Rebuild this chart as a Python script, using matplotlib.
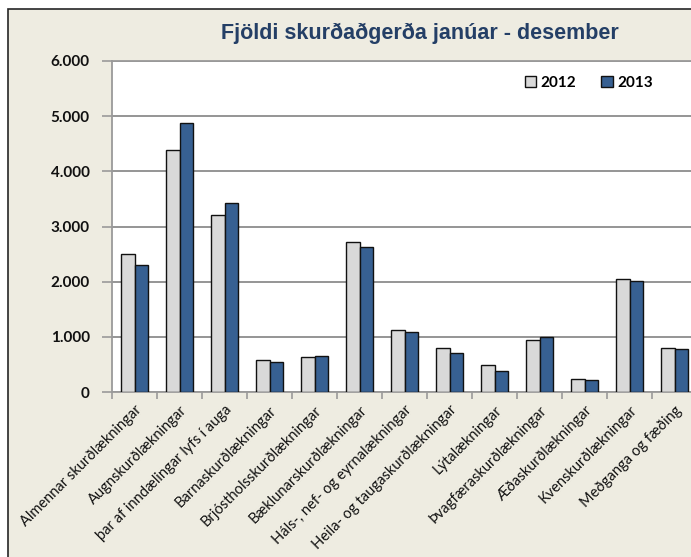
import matplotlib
matplotlib.use("Agg")
import matplotlib.pyplot as plt
from matplotlib.patches import Rectangle, Patch
import numpy as np

categories = [
    "Almennar skurðlækningar",
    "Augnskurðlækningar",
    "þar af inndælingar lyfs í auga",
    "Barnaskurðlækningar",
    "Brjóstholsskurðlækningar",
    "Bæklunarskurðlækningar",
    "Háls-, nef- og eyrnalækningar",
    "Heila- og taugaskurðlækningar",
    "Lýtalækningar",
    "Þvagfæraskurðlækningar",
    "Æðaskurðlækningar",
    "Kvenskurðlækningar",
    "Meðganga og fæðing",
]
values_2012 = [2500, 4380, 3200, 580, 630, 2715, 1115, 800, 485, 945, 236, 2055, 800]
values_2013 = [2300, 4880, 3420, 535, 655, 2625, 1085, 705, 380, 1000, 213, 2018, 776]
series_labels = ["2012", "2013"]
yticks = [0, 1000, 2000, 3000, 4000, 5000, 6000]
ytick_labels = ["0", "1.000", "2.000", "3.000", "4.000", "5.000", "6.000"]
title = "Fjöldi skurðaðgerða janúar - desember"

W, H = 691, 557
fig = plt.figure(figsize=(W / 100, H / 100), dpi=100, facecolor="white")

# outer chart frame
frame = Rectangle((8 / W, -0.05), 1.1, (H - 9) / H + 0.05,
                  transform=fig.transFigure, facecolor="#EEECE1",
                  edgecolor="#262626", linewidth=1.2, zorder=-10)
fig.add_artist(frame)

ax = fig.add_axes([112 / W, (H - 392) / H, 585 / W, 331 / H])
ax.set_zorder(5)
ax.set_facecolor("white")

x = np.arange(len(categories))
bw = 0.29
ax.bar(x - bw / 2, values_2012, bw, color="#D9D9D9", edgecolor="#111111",
       linewidth=1.0, zorder=3, label=series_labels[0])
ax.bar(x + bw / 2, values_2013, bw, color="#376092", edgecolor="#111111",
       linewidth=1.0, zorder=3, label=series_labels[1])

ax.set_xlim(-0.5, len(categories) - 0.5)
ax.set_ylim(0, 6000)
ax.set_yticks(yticks)
ax.set_yticklabels(ytick_labels, fontfamily="Lato", fontweight="bold",
                   fontsize=11, color="#111111")
ax.tick_params(axis="y", length=7, width=1.2, color="#9A9A9A", pad=9)

ax.set_xticks(x)
ax.set_xticklabels(categories, rotation=45, ha="right", va="top",
                   rotation_mode="anchor", fontfamily="Lato", fontsize=10.5,
                   color="#111111")
ax.tick_params(axis="x", which="major", length=0, pad=8)
ax.set_xticks(np.arange(-0.5, len(categories), 1.0), minor=True)
ax.tick_params(axis="x", which="minor", length=5, width=1.2, color="#9A9A9A")

ax.yaxis.grid(True, color="#8C8C8C", linewidth=1.3, zorder=1)
ax.set_axisbelow(True)
for s in ["left", "bottom", "top"]:
    ax.spines[s].set_color("#9A9A9A")
    ax.spines[s].set_linewidth(1.3)
ax.spines["right"].set_visible(False)

handles = [Patch(facecolor="#D9D9D9", edgecolor="#111111", linewidth=1.0),
           Patch(facecolor="#376092", edgecolor="#111111", linewidth=1.0)]
leg = ax.legend(handles, series_labels, loc="center", bbox_to_anchor=(0.815, 0.933),
                ncol=2, frameon=False, handlelength=0.75, handleheight=0.75,
                handletextpad=0.3, columnspacing=1.6,
                prop={"family": "Lato", "weight": "bold", "size": 11})

fig.text(420 / W, 1 - 33 / H, title, ha="center", va="center",
         fontfamily="Liberation Sans", fontweight="bold", fontsize=15.5,
         color="#243F66", zorder=6)

fig.savefig("out.png", dpi=100, facecolor="white")
